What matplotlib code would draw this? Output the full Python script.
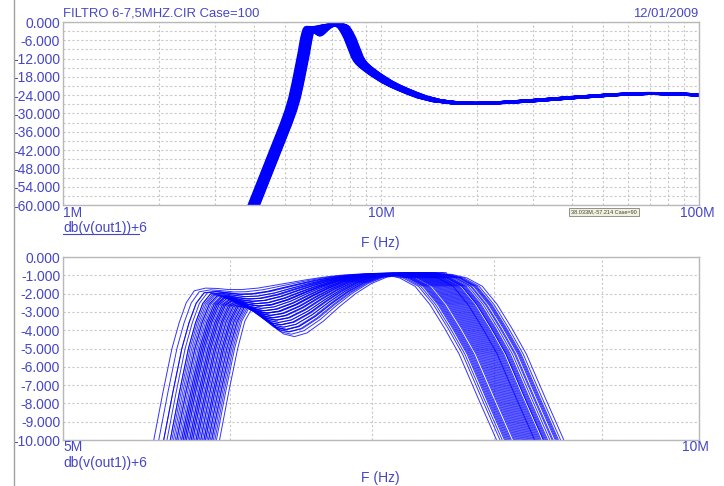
import numpy as np
import matplotlib.pyplot as plt
from matplotlib.lines import Line2D
from matplotlib.ticker import NullFormatter

plt.rcParams['font.family'] = ['Liberation Sans', 'DejaVu Sans']

# lower skirt of the response, frequency relative to the -10 dB point of each case
LO_RATIO = [0.61, 0.696, 0.75, 0.815, 0.878, 0.91, 0.935, 0.955, 0.97, 0.985, 1.0, 1.01, 1.02,
            1.028, 1.036, 1.045, 1.058, 1.072, 1.085, 1.10, 1.12, 1.14, 1.16, 1.18, 1.20,
            1.225, 1.255, 1.30]
LO_SHALLOW = [-72, -60, -51.5, -42, -33.5, -29.0, -24.8, -20.5, -17.0, -13.5, -10, -7.4, -5.0,
              -3.6, -2.5, -1.85, -1.7, -1.72, -1.78, -1.78, -1.7, -1.55, -1.4, -1.25, -1.12,
              -1.0, -0.92, -0.86]
LO_DEEP = [-72, -60, -51.5, -42, -33.5, -29.0, -24.8, -20.5, -17.0, -13.5, -10, -7.4, -5.0,
           -3.5, -2.8, -2.9, -3.6, -4.2, -4.35, -4.15, -3.5, -2.7, -2.0, -1.45, -1.1,
           -0.95, -0.88, -0.85]

# upper skirt, frequency relative to the upper -10 dB point
HI_RATIO = [0.84, 0.865, 0.885, 0.90, 0.915, 0.93, 0.945, 0.96, 0.98, 1.0, 1.012, 1.027, 1.045,
            1.07, 1.10, 1.14, 1.19, 1.25, 1.32, 1.40, 1.50, 1.62, 1.80, 2.05, 2.4, 2.9, 3.6,
            4.8, 6.6, 8.4, 10.2, 12.6]
HI_DB = [-0.85, -0.85, -0.95, -1.15, -1.6, -2.6, -3.9, -5.3, -7.7, -10, -11.4, -12.6, -13.6,
         -14.6, -15.6, -16.8, -18.1, -19.5, -20.8, -22.0, -23.3, -24.6, -25.8, -26.5, -26.7,
         -26.4, -25.8, -24.8, -23.8, -23.4, -23.6, -24.0]

# Monte Carlo cases: lower / upper -10 dB frequencies (MHz) and depth of the ripple dip
F_LO = [5.52, 5.55, 5.58, 5.60, 5.62, 5.63, 5.65, 5.66, 5.67, 5.68, 5.69, 5.70, 5.71, 5.72,
        5.72, 5.73, 5.74, 5.75, 5.76, 5.77, 5.78, 5.79, 5.80, 5.81, 5.82, 5.83, 5.84, 5.85,
        5.86, 5.87, 5.88, 5.89, 5.90, 5.91, 5.93, 5.64, 5.74, 5.79, 5.69, 5.84,
        5.58, 5.66, 5.70, 5.75, 5.78, 5.81, 5.83, 5.86, 5.88, 5.76, 5.62, 5.71]
F_HI = [8.12, 8.30, 8.05, 8.45, 8.20, 8.38, 8.02, 8.27, 8.55, 8.15, 8.33, 8.48, 8.09, 8.24,
        8.40, 8.60, 8.18, 8.35, 8.28, 8.50, 8.11, 8.42, 8.22, 8.36, 8.57, 8.14, 8.31, 8.46,
        8.25, 8.39, 8.63, 8.19, 8.34, 8.52, 8.29, 8.37, 8.07, 8.44, 8.21, 8.58,
        8.36, 8.44, 8.26, 8.17, 8.53, 8.10, 8.47, 8.32, 8.23, 8.41, 8.13, 8.56]
DIP = [0.0, 0.05, 0.1, 0.1, 0.15, 0.2, 0.2, 0.25, 0.25, 0.3, 0.3, 0.35, 0.35, 0.4,
       0.4, 0.45, 0.45, 0.5, 0.5, 0.55, 0.55, 0.6, 0.6, 0.65, 0.65, 0.7, 0.75, 0.75,
       0.8, 0.85, 0.85, 0.9, 0.9, 0.95, 1.0, 0.2, 0.45, 0.6, 0.3, 0.75,
       0.1, 0.25, 0.35, 0.5, 0.55, 0.65, 0.7, 0.8, 0.85, 0.5, 0.15, 0.35]

TEXT_C = '#4646c8'
GRID_C = '#c8c8c8'
FRAME_C = '#b8b8b8'


def case_curve(f_lo, f_hi, w):
    lo_f = np.array(LO_RATIO) * f_lo * 1e6
    lo_db = (1 - w) * np.array(LO_SHALLOW) + w * np.array(LO_DEEP)
    hi_f = np.array(HI_RATIO) * f_hi * 1e6
    hi_db = np.array(HI_DB)
    join = 0.885 * f_hi * 1e6
    keep_lo = lo_f < join
    keep_hi = hi_f >= join
    return (np.concatenate([lo_f[keep_lo], hi_f[keep_hi]]),
            np.concatenate([lo_db[keep_lo], hi_db[keep_hi]]))


def style(ax):
    ax.set_xscale('log')
    for s in ax.spines.values():
        s.set_color(FRAME_C)
        s.set_linewidth(1.0)
    ax.tick_params(which='both', length=0, labelsize=10, labelcolor=TEXT_C, pad=2)
    ax.xaxis.set_major_formatter(NullFormatter())
    ax.xaxis.set_minor_formatter(NullFormatter())
    ax.grid(True, which='both', color=GRID_C, lw=0.8, ls=(0, (2, 2)))
    ax.set_axisbelow(True)


W, H = 724, 486
fig = plt.figure(figsize=(W / 100, H / 100), dpi=100)


def fx(x):
    return x / W


def fy(y):
    return 1 - y / H


ax1 = fig.add_axes([fx(63), fy(205), fx(699) - fx(63), fy(22) - fy(205)])
ax2 = fig.add_axes([fx(63), fy(440), fx(699) - fx(63), fy(257) - fy(440)])

for f_lo, f_hi, w in zip(F_LO, F_HI, DIP):
    f, db = case_curve(f_lo, f_hi, w)
    ax1.plot(f, db, color='#0000ff', lw=2.0, solid_capstyle='round')
    ax2.plot(f, db, color='#0000ff', lw=0.7, alpha=0.8)

# top: 1M..100M, -60..0 dB
style(ax1)
ax1.set_xlim(1e6, 1e8)
ax1.set_ylim(-60, 0)
yt = np.arange(-60, 1, 6)
ax1.set_yticks(yt)
ax1.set_yticklabels([f'{v:.3f}' for v in yt])
ax1.set_yticks(np.arange(-57, 0, 6), minor=True)
ax1.set_xticks([1e6, 1e7, 1e8])
ax1.set_xticks([k * d for d in (1e6, 1e7) for k in range(2, 10)], minor=True)

# bottom: 5M..10M, -10..0 dB
style(ax2)
ax2.set_xlim(5e6, 1e7)
ax2.set_ylim(-10, 0)
yt2 = np.arange(-10, 1, 1)
ax2.set_yticks(yt2)
ax2.set_yticklabels([f'{v:.3f}' for v in yt2])
ax2.set_xticks([5e6, 1e7])
ax2.set_xticks([6e6, 7e6, 8e6, 9e6], minor=True)

txt = dict(color=TEXT_C, fontsize=10, va='center')
fig.text(fx(63), fy(14), 'FILTRO 6-7,5MHZ.CIR Case=100', ha='left',
         color=TEXT_C, fontsize=9.4, va='center')
fig.text(fx(698), fy(14), '12/01/2009', ha='right', color=TEXT_C, fontsize=9.4, va='center')

fig.text(fx(63), fy(213), '1M', ha='left', **txt)
fig.text(fx(381), fy(213), '10M', ha='center', **txt)
fig.text(fx(697), fy(213), '100M', ha='center', **txt)
fig.text(fx(63), fy(228), 'db(v(out1))+6', ha='left', **txt)
fig.add_artist(Line2D([fx(63), fx(139)], [fy(234), fy(234)], color=TEXT_C, lw=0.8))
fig.text(fx(380), fy(243), 'F (Hz)', ha='center', **txt)
fig.text(fx(604), fy(212), '38.033M,-57.214 Case=90', ha='center', va='center',
         fontsize=4, color='#404040',
         bbox=dict(boxstyle='square,pad=0.35', fc='#f2f2dc', ec='#808080', lw=0.6))

fig.text(fx(63), fy(447), '5M', ha='left', **txt)
fig.text(fx(695), fy(447), '10M', ha='center', **txt)
fig.text(fx(63), fy(463), 'db(v(out1))+6', ha='left', **txt)
fig.text(fx(380), fy(478), 'F (Hz)', ha='center', **txt)

# window border on the left
fig.add_artist(Line2D([fx(14), fx(14)], [0, 1], color='#a0a0a0', lw=1.0))

fig.savefig('out.png', dpi=100)
